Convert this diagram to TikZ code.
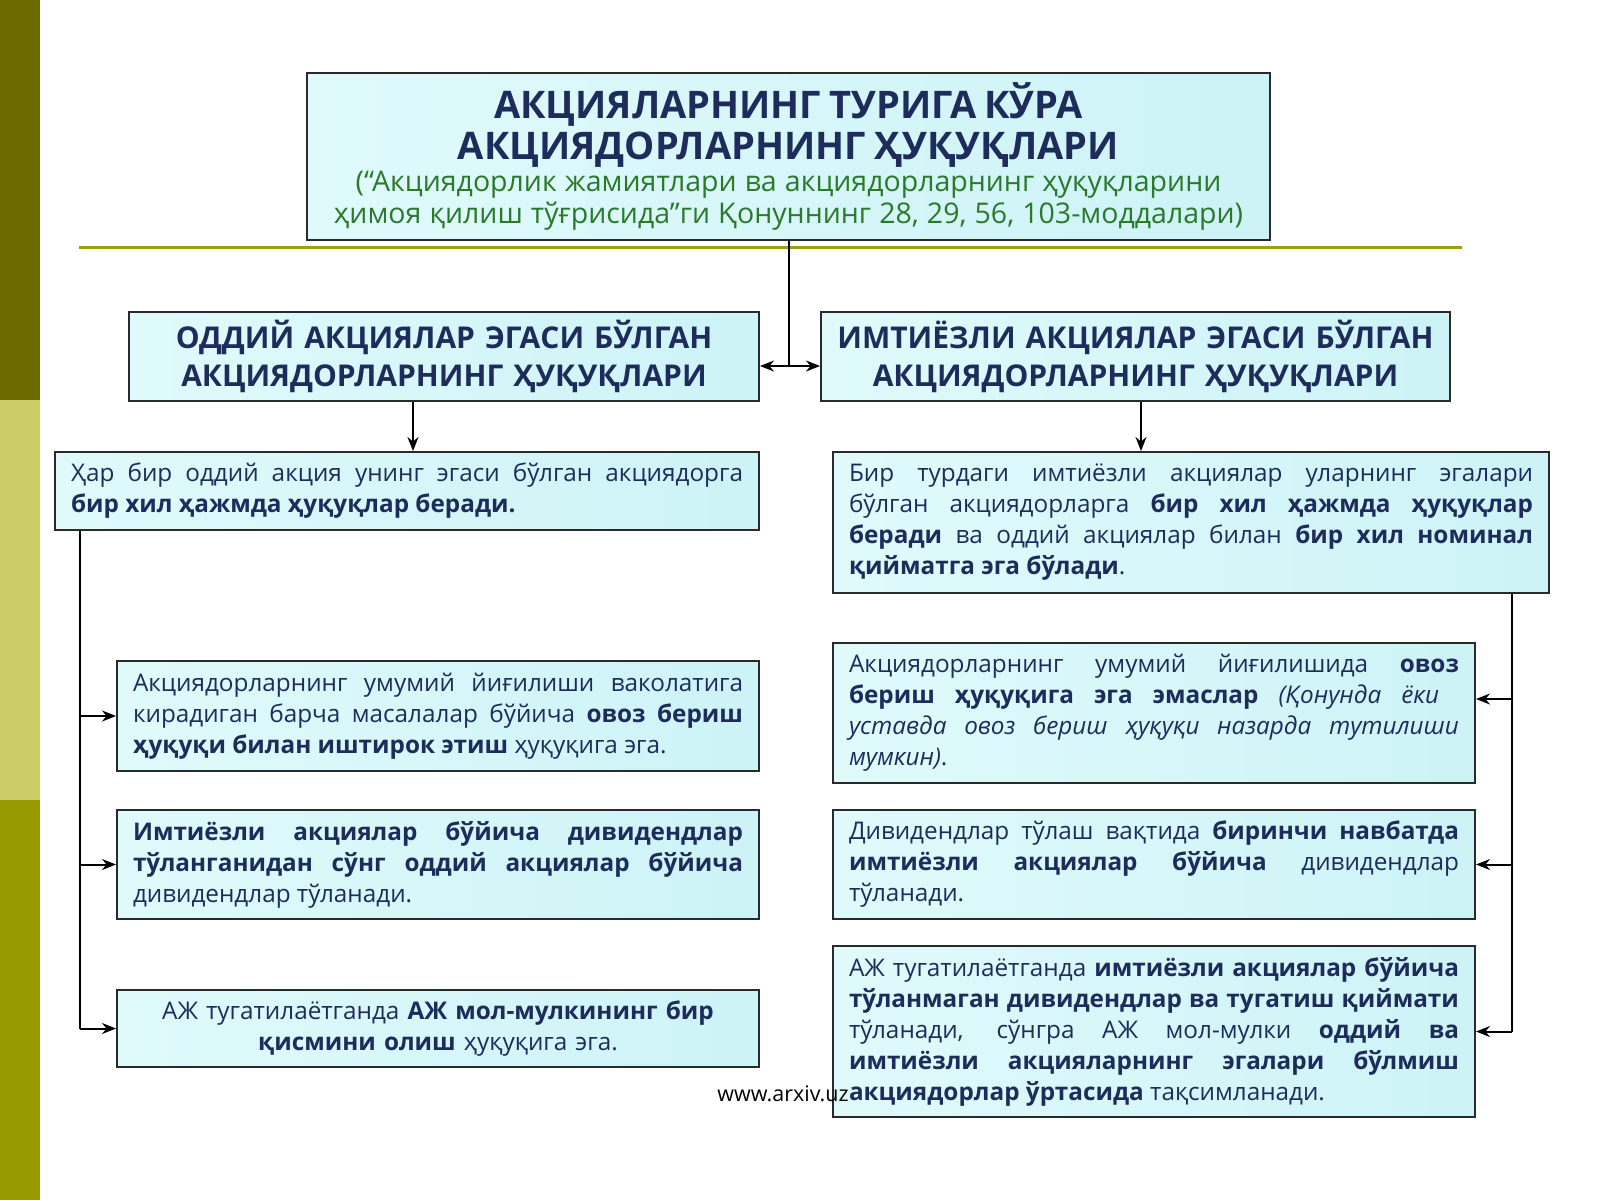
\documentclass[tikz,border=0pt]{standalone}
\usepackage{fontspec}
\setmainfont{Open Sans}
\usetikzlibrary{arrows.meta,calc}
\definecolor{navy}{HTML}{1D2C5B}
\definecolor{lawgreen}{HTML}{2B7A2B}
\definecolor{boxL}{HTML}{E0FAFB}
\definecolor{boxR}{HTML}{CDF3F7}
\definecolor{boxline}{HTML}{2A2A2A}
\definecolor{barA}{HTML}{6B6B00}
\definecolor{barB}{HTML}{CCCC66}
\definecolor{barC}{HTML}{999900}
\definecolor{rulecol}{HTML}{9E9E10}
\hyphenpenalty=10000
\exhyphenpenalty=10000
\tolerance=9999
\tikzset{
  box/.style={draw=boxline, line width=2pt, left color=boxL, right color=boxR,
    inner xsep=16pt, inner ysep=3pt, text=navy, align=justify,
    font=\fontsize{24.3}{31}\selectfont},
  headbox/.style={box, align=center, font=\bfseries\fontsize{30}{38}\selectfont},
  arr/.style={line width=2pt, draw=black, -{Stealth[length=14pt,width=11pt]}},
  conn/.style={line width=2pt, draw=black},
}
\begin{document}
\begin{tikzpicture}[x=1pt,y=-1pt]
\useasboundingbox (0,0) rectangle (1600,1200);
\fill[white] (0,0) rectangle (1600,1200);
% left decorative bar
\fill[barA] (0,0) rectangle (40,400);
\fill[barB] (0,400) rectangle (40,800);
\fill[barC] (0,800) rectangle (40,1200);
% olive rule under title
\draw[rulecol, line width=3pt] (79,247) -- (1462,247);

% title
\node[box, align=center, text width=931pt, minimum height=167pt, inner ysep=2pt] (T) at (788.5,156.5)
 {{\bfseries\fontsize{38}{41}\selectfont АКЦИЯЛАРНИНГ ТУРИГА КЎРА\\АКЦИЯДОРЛАРНИНГ ҲУҚУҚЛАРИ\par}
  {\color{lawgreen}\fontsize{28.5}{32}\selectfont (“Акциядорлик жамиятлари ва акциядорларнинг ҳуқуқларини\\ ҳимоя қилиш тўғрисида”ги Қонуннинг 28, 29, 56, 103-моддалари)\par}};

% level 1
\node[headbox, text width=598pt, minimum height=89pt] (L1) at (444,356.5)
 {ОДДИЙ АКЦИЯЛАР ЭГАСИ БЎЛГАН\\АКЦИЯДОРЛАРНИНГ ҲУҚУҚЛАРИ};
\node[headbox, text width=597pt, minimum height=89pt] (R1) at (1135.5,356.5)
 {ИМТИЁЗЛИ АКЦИЯЛАР ЭГАСИ БЎЛГАН\\АКЦИЯДОРЛАРНИНГ ҲУҚУҚЛАРИ};

% level 2
\node[box, text width=672pt, minimum height=78pt] (L2) at (407,491)
 {Ҳар бир оддий акция унинг эгаси бўлган акциядорга \linebreak
  \textbf{бир хил ҳажмда ҳуқуқлар беради.}};
\node[box, text width=684pt, minimum height=141pt] (R2) at (1191,522.5)
 {Бир турдаги имтиёзли акциялар уларнинг эгалари \linebreak
  бўлган акциядорларга \textbf{бир хил ҳажмда ҳуқуқлар} \linebreak
  \textbf{беради} ва оддий акциялар билан \textbf{бир хил номинал} \linebreak
  \textbf{қийматга эга бўлади}.};

% left column
\node[box, text width=610pt, minimum height=110pt] (L3) at (438,716)
 {Акциядорларнинг умумий йиғилиши ваколатига \linebreak
  кирадиган барча масалалар бўйича \textbf{овоз бериш} \linebreak
  \textbf{ҳуқуқи билан иштирок этиш} ҳуқуқига эга.};
\node[box, text width=610pt, minimum height=109pt] (L4) at (438,864.5)
 {\textbf{Имтиёзли акциялар бўйича дивидендлар} \linebreak
  \textbf{тўланганидан сўнг оддий акциялар бўйича} \linebreak
  дивидендлар тўланади.};
\node[box, align=center, text width=610pt, minimum height=77pt] (L5) at (438,1028.5)
 {АЖ тугатилаётганда \textbf{АЖ мол-мулкининг бир}\\
  \textbf{қисмини олиш} ҳуқуқига эга.};

% right column
\node[box, text width=610pt, minimum height=140pt] (R3) at (1154,713)
 {Акциядорларнинг умумий йиғилишида \textbf{овоз} \linebreak
  \textbf{бериш ҳуқуқига эга эмаслар} \textit{(Қонунда ёки}\hspace*{20pt} \linebreak
  \textit{уставда овоз бериш ҳуқуқи назарда тутилиши} \linebreak
  \textit{мумкин)}.};
\node[box, text width=610pt, minimum height=109pt] (R4) at (1154,864.5)
 {Дивидендлар тўлаш вақтида \textbf{биринчи навбатда} \linebreak
  \textbf{имтиёзли акциялар бўйича} дивидендлар \linebreak
  тўланади.};
\node[box, text width=610pt, minimum height=171pt] (R5) at (1154,1031.5)
 {АЖ тугатилаётганда \textbf{имтиёзли акциялар бўйича} \linebreak
  \textbf{тўланмаган дивидендлар ва тугатиш қиймати} \linebreak
  тўланади, сўнгра АЖ мол-мулки \textbf{оддий ва} \linebreak
  \textbf{имтиёзли акцияларнинг эгалари бўлмиш} \linebreak
  \textbf{акциядорлар ўртасида} тақсимланади.};

% connectors
\coordinate (j) at (T.south |- 0,366);
\draw[conn] (T.south) -- (j);
\draw[arr] (j) -- (j -| L1.east);
\draw[arr] (j) -- (j -| R1.west);

\coordinate (la) at (413,0);
\draw[arr] (la |- L1.south) -- (la |- L2.north);
\coordinate (ra) at (1141,0);
\draw[arr] (ra |- R1.south) -- (ra |- R2.north);

\coordinate (lt) at (80,0);
\draw[conn] (lt |- L2.south) -- (lt |- L5.west);
\draw[arr] (lt |- L3.west) -- (L3.west);
\draw[arr] (lt |- L4.west) -- (L4.west);
\draw[arr] (lt |- L5.west) -- (L5.west);

\coordinate (rt) at (1512,0);
\draw[conn] (rt |- R2.south) -- (rt |- R5.east);
\draw[arr] ([yshift=14pt]rt |- R3.east) -- ([yshift=14pt]R3.east);
\draw[arr] (rt |- R4.east) -- (R4.east);
\draw[arr] (rt |- R5.east) -- (R5.east);

% watermark
\node[font=\fontsize{21.5}{24}\selectfont, text=black, inner sep=0pt] (wm) at (783,1094) {www.arxiv.uz};
\end{tikzpicture}
\end{document}
